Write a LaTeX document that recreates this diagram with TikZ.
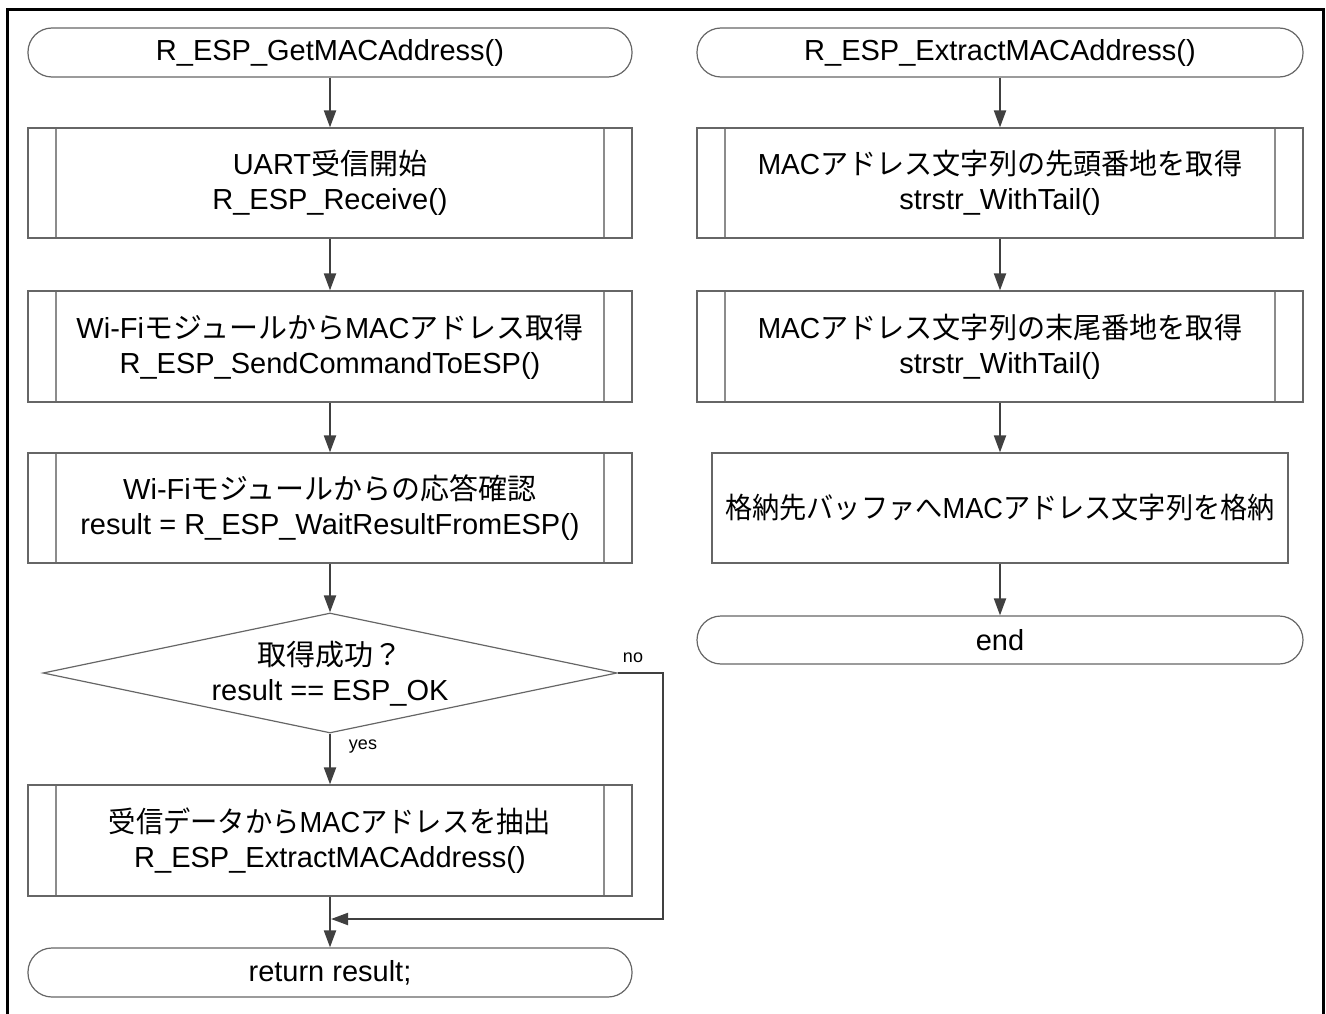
\documentclass[tikz,border=0pt]{standalone}
\usepackage{fontspec}
\usepackage{graphicx}
\setmainfont{Liberation Sans}
\newfontfamily\jpfont{Noto Sans CJK JP}
\newcommand\J[1]{{\jpfont #1}}
\newcommand\sx[2]{\scalebox{#1}[1]{#2}}
\usetikzlibrary{shapes.geometric,arrows.meta}
\definecolor{linegray}{HTML}{666666}
\definecolor{innergray}{HTML}{8C8C8C}
\definecolor{arrowgray}{HTML}{404040}
\begin{document}
\begin{tikzpicture}[x=1pt,y=-1pt,
  every node/.style={font=\fontsize{29}{35}\selectfont, align=center, text=black},
  term/.style={draw=linegray, line width=1.2pt, rounded corners=24pt, minimum width=604pt, minimum height=49pt, inner sep=0pt},
  proc/.style={draw=linegray, line width=1.2pt, minimum width=604pt, minimum height=110pt, inner sep=0pt,
    path picture={\draw[innergray, line width=1.2pt]
      ([xshift=28pt]path picture bounding box.north west) -- ([xshift=28pt]path picture bounding box.south west)
      ([xshift=-28pt]path picture bounding box.north east) -- ([xshift=-28pt]path picture bounding box.south east);}},
  plainbox/.style={draw=linegray, line width=1.2pt, minimum width=576pt, minimum height=110pt, inner sep=0pt},
  decision/.style={draw=linegray, line width=1.2pt, shape=diamond, minimum width=574pt, minimum height=120pt, inner sep=0pt},
  arr/.style={draw=arrowgray, line width=2pt, -{Triangle[length=17pt,width=12pt]}},
  small/.style={font=\fontsize{18}{20}\selectfont}
]
\useasboundingbox (0,0) rectangle (1326,1014);
\draw[black, line width=2.6pt] (7.5,1016) -- (7.5,9.5) -- (1323.5,9.5) -- (1323.5,1016);

% left column
\node[term] (s1) at (330,52.5) {R\_ESP\_GetMACAddress()};
\node[proc] (p1) at (330,183) {UART\J{受信開始}\\R\_ESP\_Receive()};
\node[proc, minimum height=111pt] (p2) at (330,346.5) {Wi-Fi\J{モジュールから}MAC\J{アドレス取得}\\R\_ESP\_SendCommandToESP()};
\node[proc] (p3) at (330,508) {Wi-Fi\J{モジュールからの応答確認}\\result = R\_ESP\_WaitResultFromESP()};
\node[decision] (dec) at (330,673) {};
\node (dectext) at (330,674) {\J{取得成功？}\\result == ESP\_OK};
\node[proc, minimum height=111pt] (p4) at (330,840.5) {\sx{0.94}{\J{受信データから}MAC\J{アドレスを抽出}}\\R\_ESP\_ExtractMACAddress()};
\node[term] (ret) at (330,972.5) {return result;};
\node[small] (nolab) at (633,658) {no};
\node[small] (yeslab) at (363,747) {yes};

\draw[arr] (s1) -- (p1);
\draw[arr] (p1) -- (p2);
\draw[arr] (p2) -- (p3);
\draw[arr] (p3) -- (dec.north);
\draw[arr] (dec.south) -- (p4);
\draw[arr] (p4) -- (ret);
\coordinate (nocorner) at (663,919);
\coordinate (join) at (331,919);
\draw[arr] (dec.east) -| (nocorner) -- (join);

% right column
\node[term, minimum width=606pt] (s2) at (1000,52.5) {R\_ESP\_ExtractMACAddress()};
\node[proc, minimum width=606pt] (r1) at (1000,183) {\sx{0.97}{MAC\J{アドレス文字列の先頭番地を取得}}\\strstr\_WithTail()};
\node[proc, minimum width=606pt, minimum height=111pt] (r2) at (1000,346.5) {\sx{0.97}{MAC\J{アドレス文字列の末尾番地を取得}}\\strstr\_WithTail()};
\node[plainbox] (r3) at (1000,508) {\sx{0.937}{\J{格納先バッファへ}MAC\J{アドレス文字列を格納}}};
\node[term, minimum width=606pt, minimum height=48pt] (e2) at (1000,640) {end};

\draw[arr] (s2) -- (r1);
\draw[arr] (r1) -- (r2);
\draw[arr] (r2) -- (r3);
\draw[arr] (r3) -- (e2);
\end{tikzpicture}
\end{document}
